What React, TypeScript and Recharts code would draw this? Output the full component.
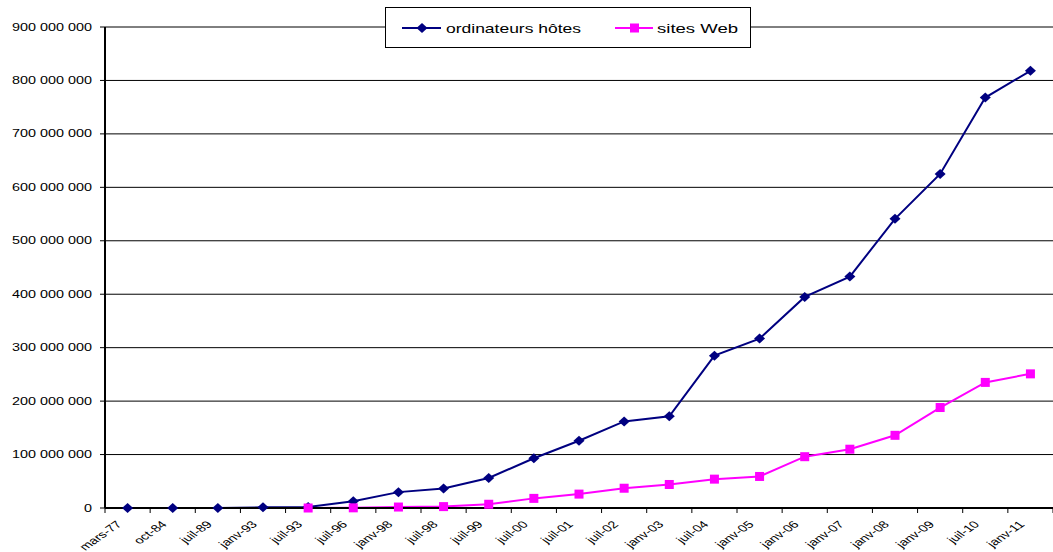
import { LineChart, Line, XAxis, YAxis, CartesianGrid, Legend } from "recharts";

const categories = [
  "mars-77", "oct-84", "juil-89", "janv-93", "juil-93", "juil-96", "janv-98",
  "juil-98", "juil-99", "juil-00", "juil-01", "juil-02", "janv-03", "juil-04",
  "janv-05", "janv-06", "janv-07", "janv-08", "janv-09", "juil-10", "janv-11",
];

const hosts = [
  111, 1000, 130000, 1300000, 1800000, 12800000, 29700000, 36700000, 56200000,
  93000000, 125900000, 162000000, 171600000, 285000000, 317000000, 395000000,
  433000000, 541000000, 625000000, 768000000, 818000000,
];

const sites: (number | null)[] = [
  null, null, null, null, 130, 300000, 1800000, 2600000, 7000000, 18000000,
  26000000, 37000000, 44000000, 54000000, 59000000, 96000000, 110000000,
  136000000, 188000000, 235000000, 251000000,
];

const yTicks = [
  0, 100000000, 200000000, 300000000, 400000000, 500000000, 600000000,
  700000000, 800000000, 900000000,
];

const data = categories.map((label, i) => ({ label, hosts: hosts[i], sites: sites[i] }));

const FONT = "'Liberation Sans', Arial, sans-serif";
const BAND = 948 / categories.length;
const STRETCH = 1.44;
const NAVY = "#000080";
const PINK = "#FF00FF";

const fmt = (v: number) => String(v).replace(/\B(?=(\d{3})+(?!\d))/g, " ");

const YTick = ({ x, y, payload }: any) => (
  <g transform={`translate(${x},${y}) scale(${STRETCH},1)`}>
    <text textAnchor="end" dy="0.35em" fontSize={10} fontFamily={FONT} fill="#000">
      {fmt(payload.value)}
    </text>
  </g>
);

// category labels sit under the point, ticks sit on the band edges (Excel style)
const XTick = ({ x, y, payload, index }: any) => (
  <g>
    <line x1={x - BAND / 2} y1={y} x2={x - BAND / 2} y2={y + 5} stroke="#000" strokeWidth={1} />
    {index === categories.length - 1 && (
      <line x1={x + BAND / 2} y1={y} x2={x + BAND / 2} y2={y + 5} stroke="#000" strokeWidth={1} />
    )}
    <g transform={`translate(${x - 5},${y + 17}) scale(${STRETCH},1) rotate(-45)`}>
      <text textAnchor="end" fontSize={10} fontFamily={FONT} fill="#000">
        {payload.value}
      </text>
    </g>
  </g>
);

const Diamond = ({ cx, cy, index }: any) => {
  if (cx == null || cy == null) return <g key={`d${index}`} />;
  return (
    <polygon
      key={`d${index}`}
      points={`${cx},${cy - 5} ${cx + 5.5},${cy} ${cx},${cy + 5} ${cx - 5.5},${cy}`}
      fill={NAVY}
    />
  );
};

const Square = ({ cx, cy, index }: any) => {
  if (cx == null || cy == null) return <g key={`s${index}`} />;
  return <rect key={`s${index}`} x={cx - 4.5} y={cy - 4.5} width={9} height={9} fill={PINK} />;
};

const LegendBox = () => (
  <div
    style={{
      width: 366,
      height: 41,
      boxSizing: "border-box",
      border: "1px solid #000",
      background: "#fff",
    }}
  >
    <svg width={364} height={39}>
      <line x1={16} y1={20} x2={55} y2={20} stroke={NAVY} strokeWidth={2} />
      <polygon points="36,15 41.5,20 36,25 30.5,20" fill={NAVY} />
      <text x={60} y={24.5} fontSize={13} fontFamily={FONT} textLength={135} lengthAdjust="spacingAndGlyphs">
        ordinateurs hôtes
      </text>
      <line x1={229} y1={20} x2={267} y2={20} stroke={PINK} strokeWidth={2} />
      <rect x={244} y={15.5} width={9} height={9} fill={PINK} />
      <text x={271} y={24.5} fontSize={13} fontFamily={FONT} textLength={81} lengthAdjust="spacingAndGlyphs">
        sites Web
      </text>
    </svg>
  </div>
);

export default function App() {
  return (
    <div style={{ position: "fixed", left: 0, top: 0, width: 1053, height: 552, background: "#fff" }}>
      <LineChart width={1053} height={552} data={data} margin={{ top: 27, right: 0, left: 0, bottom: 0 }}>
        <CartesianGrid vertical={false} stroke="#000" strokeWidth={1} />
        <XAxis
          dataKey="label"
          height={44}
          interval={0}
          padding={{ left: BAND / 2, right: BAND / 2 }}
          tickSize={0}
          tickMargin={0}
          tickLine={false}
          axisLine={{ stroke: "#000", strokeWidth: 2 }}
          tick={<XTick />}
        />
        <YAxis
          width={105}
          domain={[0, 900000000]}
          ticks={yTicks}
          interval={0}
          tickSize={5}
          tickMargin={8}
          tickLine={{ stroke: "#000" }}
          axisLine={{ stroke: "#000", strokeWidth: 2 }}
          tick={<YTick />}
        />
        <Legend
          layout="horizontal"
          verticalAlign="middle"
          align="center"
          wrapperStyle={{ top: 7, left: 385, width: 366, height: 41 }}
          content={<LegendBox />}
        />
        <Line
          dataKey="hosts"
          stroke={NAVY}
          strokeWidth={2}
          dot={<Diamond />}
          activeDot={false}
          isAnimationActive={false}
        />
        <Line
          dataKey="sites"
          stroke={PINK}
          strokeWidth={2}
          dot={<Square />}
          activeDot={false}
          isAnimationActive={false}
        />
      </LineChart>
    </div>
  );
}
